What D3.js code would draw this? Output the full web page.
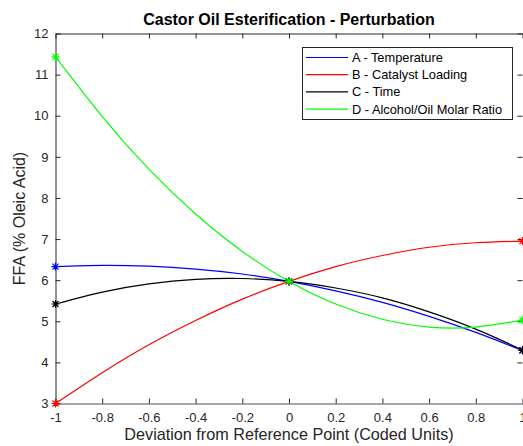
<!DOCTYPE html>
<html>
<head>
<meta charset="utf-8">
<script src="https://cdn.jsdelivr.net/npm/d3@7"></script>
<style>
  body { margin: 0; background: #fff; }
  svg { display: block; font-family: "Liberation Sans", Arial, sans-serif; }
</style>
</head>
<body>
<svg id="chart" width="523" height="446"></svg>
<script>
// coded levels sampled along each perturbation curve
const xLevels = [-1, -0.8, -0.6, -0.4, -0.2, 0, 0.2, 0.4, 0.6, 0.8, 1];
const temperature = [6.33, 6.36, 6.34, 6.27, 6.15, 5.97, 5.74, 5.46, 5.12, 4.73, 4.29];
const catalystLoading = [3.00, 3.75, 4.43, 5.02, 5.54, 5.97, 6.33, 6.60, 6.80, 6.91, 6.95];
const time = [5.42, 5.71, 5.91, 6.02, 6.04, 5.97, 5.81, 5.57, 5.23, 4.81, 4.30];
const molarRatio = [11.43, 9.98, 8.70, 7.61, 6.70, 5.97, 5.42, 5.05, 4.86, 4.86, 5.03];

const seriesNames = ['A - Temperature', 'B - Catalyst Loading', 'C - Time', 'D - Alcohol/Oil Molar Ratio'];
const seriesColors = ['#0000ff', '#ff0000', '#000000', '#00ff00'];
const markerLevels = [-1, 0, 1];

const xTicks = [-1, -0.8, -0.6, -0.4, -0.2, 0, 0.2, 0.4, 0.6, 0.8, 1];
const yTicks = [3, 4, 5, 6, 7, 8, 9, 10, 11, 12];

const series = [temperature, catalystLoading, time, molarRatio].map((vals, i) => ({
  name: seriesNames[i],
  color: seriesColors[i],
  points: xLevels.map((x, j) => ({x: x, y: vals[j]}))
}));

const svg = d3.select('#chart');
const plotLeft = 55.5, plotRight = 522.5, plotTop = 33.5, plotBottom = 403.5;

const xScale = d3.scaleLinear().domain([-1, 1]).range([plotLeft, plotRight]);
const yScale = d3.scaleLinear().domain([3, 12]).range([plotBottom, plotTop]);

const fmt = d => (d === 0 ? '0' : String(d));
const axisColor = '#262626';

// top and right box edges, ticks pointing inward
const topAxis = svg.append('g').attr('transform', `translate(0,${plotTop})`)
  .call(d3.axisTop(xScale).tickValues(xTicks).tickSize(-5).tickSizeOuter(0).tickFormat(''));
const rightAxis = svg.append('g').attr('transform', `translate(${plotRight},0)`)
  .call(d3.axisRight(yScale).tickValues(yTicks).tickSize(-5).tickSizeOuter(0).tickFormat(''));

const xAxis = svg.append('g').attr('transform', `translate(0,${plotBottom})`)
  .call(d3.axisBottom(xScale).tickValues(xTicks).tickSize(-5).tickSizeOuter(0).tickPadding(9).tickFormat(fmt));
const yAxis = svg.append('g').attr('transform', `translate(${plotLeft},0)`)
  .call(d3.axisLeft(yScale).tickValues(yTicks).tickSize(-5).tickSizeOuter(0).tickPadding(7).tickFormat(fmt));

[topAxis, rightAxis, xAxis, yAxis].forEach(g => {
  g.selectAll('.tick line').attr('stroke', axisColor);
  g.select('.domain').attr('stroke', axisColor);
  g.selectAll('text').attr('fill', axisColor).style('font-size', '13px').style('font-family', '"Liberation Sans", Arial, sans-serif');
});
xAxis.select('.domain').attr('stroke', '#a6a6a6').attr('stroke-width', 2);
rightAxis.select('.domain').attr('stroke', 'none');

// curves
const line = d3.line().x(d => xScale(d.x)).y(d => yScale(d.y)).curve(d3.curveNatural);

svg.append('g').selectAll('path')
  .data(series)
  .enter().append('path')
  .attr('d', d => line(d.points))
  .attr('fill', 'none')
  .attr('stroke', d => d.color)
  .attr('stroke-width', 1.2);

// asterisk markers at the coded levels -1, 0, 1
const star = 'M-4,0H4M0,-4V4M-3,-3L3,3M-3,3L3,-3';
series.forEach(s => {
  svg.append('g').selectAll('path')
    .data(s.points.filter(p => markerLevels.includes(p.x)))
    .enter().append('path')
    .attr('transform', d => `translate(${xScale(d.x)},${yScale(d.y)})`)
    .attr('d', star)
    .attr('fill', 'none')
    .attr('stroke', s.color)
    .attr('stroke-width', 1.2);
});

// title and axis labels
svg.append('text')
  .attr('x', (plotLeft + plotRight) / 2).attr('y', 25)
  .attr('text-anchor', 'middle')
  .style('font-size', '16px').style('font-weight', 'bold')
  .attr('fill', '#000')
  .text('Castor Oil Esterification - Perturbation');

svg.append('text')
  .attr('x', (plotLeft + plotRight) / 2).attr('y', 440)
  .attr('text-anchor', 'middle')
  .style('font-size', '16.2px')
  .attr('fill', axisColor)
  .text('Deviation from Reference Point (Coded Units)');

svg.append('text')
  .attr('transform', `translate(25,${(plotTop + plotBottom) / 2}) rotate(-90)`)
  .attr('text-anchor', 'middle')
  .style('font-size', '16px')
  .attr('fill', axisColor)
  .text('FFA (% Oleic Acid)');

// legend
const legend = svg.append('g').attr('transform', 'translate(302,47)');
legend.append('rect')
  .attr('x', 0.5).attr('y', 0.5).attr('width', 210).attr('height', 72)
  .attr('fill', '#fff').attr('stroke', '#262626').attr('stroke-width', 1);

const rows = legend.selectAll('g.row')
  .data(series)
  .enter().append('g')
  .attr('class', 'row')
  .attr('transform', (d, i) => `translate(0,${10.5 + i * 17.2})`);

rows.append('line')
  .attr('x1', 4).attr('x2', 46)
  .attr('stroke', d => d.color).attr('stroke-width', 1.2);

rows.append('text')
  .attr('x', 50).attr('y', 4.5)
  .style('font-size', '12.8px')
  .attr('fill', '#000')
  .text(d => d.name);
</script>
</body>
</html>
